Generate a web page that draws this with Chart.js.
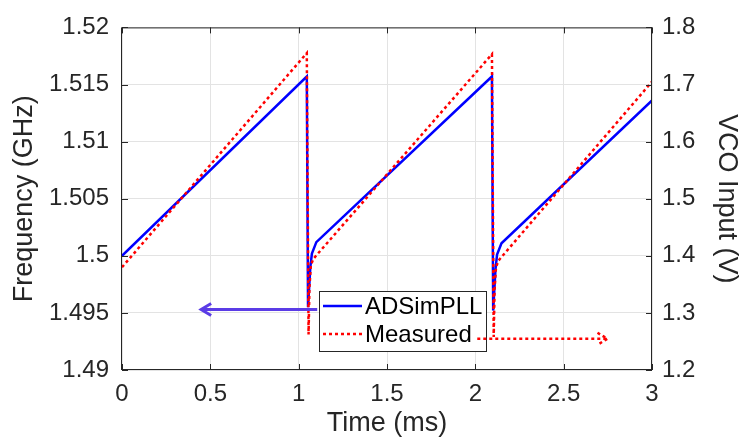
<!DOCTYPE html>
<html>
<head>
<meta charset="utf-8">
<script src="https://cdn.jsdelivr.net/npm/chart.js@4"></script>
<style>
  html, body { margin: 0; padding: 0; background: #fff; }
</style>
</head>
<body>
<canvas id="chart" width="743" height="441"></canvas>
<script>
// values
const timeADSim = [0, 1.046, 1.053, 1.066, 1.075, 1.1, 2.094, 2.101, 2.114, 2.123, 2.148, 3];
const freqADSim = [1.5, 1.5157, 1.4955, 1.499, 1.5002, 1.5012, 1.5157, 1.4952, 1.4988, 1.5001, 1.5011, 1.5136];

const timeMeasured = [0, 1.046, 1.056, 1.061, 1.069, 1.084, 2.094, 2.104, 2.109, 2.117, 2.132, 3];
const vcoMeasured = [1.38, 1.755, 1.262, 1.344, 1.384, 1.395, 1.753, 1.258, 1.34, 1.38, 1.392, 1.705];

const timeTicks = [0, 0.5, 1, 1.5, 2, 2.5, 3];
const timeTickLabels = ['0', '0.5', '1', '1.5', '2', '2.5', '3'];
const freqTicks = [1.49, 1.495, 1.5, 1.505, 1.51, 1.515, 1.52];
const freqTickLabels = ['1.49', '1.495', '1.5', '1.505', '1.51', '1.515', '1.52'];
const vcoTicks = [1.2, 1.3, 1.4, 1.5, 1.6, 1.7, 1.8];
const vcoTickLabels = ['1.2', '1.3', '1.4', '1.5', '1.6', '1.7', '1.8'];

// annotation arrows (data units): which axis each curve belongs to
const arrowADSimTime = [1.105, 0.448];
const arrowADSimFreq = 1.4953;
const arrowMeasuredTime = [2.011, 2.748];
const arrowMeasuredVco = 1.2547;

const FONT = "'Liberation Sans', Arial, Helvetica, sans-serif";
const AXIS_COLOR = '#262626';
Chart.defaults.font.family = FONT;
Chart.defaults.color = AXIS_COLOR;

const toPoints = (xs, ys) => xs.map((x, i) => ({ x: x, y: ys[i] }));

const setTicks = (values) => (scale) => {
  scale.ticks = values.map(v => ({ value: v }));
};

const matlabAxes = {
  id: 'matlabAxes',
  afterDatasetsDraw(chart) {
    const { ctx, chartArea: a, scales } = chart;
    const len = 6;
    ctx.save();
    ctx.strokeStyle = AXIS_COLOR;
    ctx.lineWidth = 1;
    ctx.strokeRect(a.left - 0.5, a.top + 0.5, a.right - a.left, a.bottom - a.top - 1);
    ctx.beginPath();
    timeTicks.forEach(v => {
      const px = Math.round(scales.x.getPixelForValue(v)) + 0.5;
      ctx.moveTo(px, a.bottom); ctx.lineTo(px, a.bottom - len);
      ctx.moveTo(px, a.top); ctx.lineTo(px, a.top + len);
    });
    freqTicks.forEach(v => {
      const py = Math.round(scales.y.getPixelForValue(v)) + 0.5;
      ctx.moveTo(a.left, py); ctx.lineTo(a.left + len, py);
    });
    vcoTicks.forEach(v => {
      const py = Math.round(scales.y1.getPixelForValue(v)) + 0.5;
      ctx.moveTo(a.right, py); ctx.lineTo(a.right - len, py);
    });
    ctx.stroke();
    ctx.restore();
  },
  afterDraw(chart) {
    const { ctx, scales } = chart;
    const ds = chart.data.datasets;
    ctx.save();

    // legend box
    const bx = 319, by = 291, bw = 167, bh = 60;
    ctx.fillStyle = '#fff';
    ctx.fillRect(bx, by, bw, bh);
    ctx.strokeStyle = AXIS_COLOR;
    ctx.lineWidth = 1;
    ctx.strokeRect(bx + 0.5, by + 0.5, bw, bh);
    const rows = [306, 334];
    ds.forEach((d, i) => {
      const y = rows[i];
      ctx.beginPath();
      ctx.strokeStyle = d.borderColor;
      ctx.lineWidth = d.borderWidth;
      ctx.setLineDash(d.borderDash || []);
      ctx.moveTo(bx + 4, y);
      ctx.lineTo(bx + 43, y);
      ctx.stroke();
      ctx.setLineDash([]);
      ctx.fillStyle = '#000';
      ctx.font = '24px ' + FONT;
      ctx.textBaseline = 'middle';
      ctx.textAlign = 'left';
      ctx.fillText(d.label, bx + 46, y + 1);
    });

    // arrow to the left axis (ADSimPLL)
    const ay = scales.y.getPixelForValue(arrowADSimFreq);
    const ax0 = scales.x.getPixelForValue(arrowADSimTime[0]);
    const ax1 = scales.x.getPixelForValue(arrowADSimTime[1]);
    ctx.strokeStyle = '#5b3ce6';
    ctx.lineWidth = 3;
    ctx.beginPath();
    ctx.moveTo(ax0, ay); ctx.lineTo(ax1, ay);
    ctx.moveTo(ax1 + 10, ay - 6); ctx.lineTo(ax1, ay); ctx.lineTo(ax1 + 10, ay + 6);
    ctx.stroke();

    // arrow to the right axis (Measured)
    const ry = scales.y1.getPixelForValue(arrowMeasuredVco);
    const rx0 = scales.x.getPixelForValue(arrowMeasuredTime[0]);
    const rx1 = scales.x.getPixelForValue(arrowMeasuredTime[1]);
    ctx.strokeStyle = '#ff0000';
    ctx.lineWidth = 2.5;
    ctx.setLineDash([3, 3]);
    ctx.beginPath();
    ctx.moveTo(rx0, ry); ctx.lineTo(rx1, ry);
    ctx.moveTo(rx1 - 10, ry - 6); ctx.lineTo(rx1, ry); ctx.lineTo(rx1 - 10, ry + 6);
    ctx.stroke();
    ctx.restore();
  }
};

new Chart(document.getElementById('chart'), {
  type: 'scatter',
  data: {
    datasets: [
      {
        label: 'ADSimPLL',
        data: toPoints(timeADSim, freqADSim),
        yAxisID: 'y',
        showLine: true,
        borderColor: '#0000ff',
        borderWidth: 2.5,
        pointRadius: 0,
        tension: 0,
        order: 1,
      },
      {
        label: 'Measured',
        data: toPoints(timeMeasured, vcoMeasured),
        yAxisID: 'y1',
        showLine: true,
        borderColor: '#ff0000',
        borderWidth: 2.5,
        borderDash: [3, 3],
        pointRadius: 0,
        tension: 0,
        order: 0,
      },
    ],
  },
  options: {
    responsive: false,
    animation: false,
    layout: { padding: { top: 22, left: 0, right: 0, bottom: 0 } },
    plugins: {
      legend: { display: false },
      tooltip: { enabled: false },
    },
    scales: {
      x: {
        type: 'linear',
        position: 'bottom',
        min: 0,
        max: 3,
        afterBuildTicks: setTicks(timeTicks),
        afterFit: (s) => { s.height = 71; },
        grid: { color: '#e3e3e3', drawTicks: false },
        border: { display: false },
        ticks: {
          padding: 10,
          font: { size: 24 },
          callback: (v, i) => timeTickLabels[i],
        },
        title: { display: true, text: 'Time (ms)', font: { size: 27 }, padding: { top: 0, bottom: 1 } },
      },
      y: {
        type: 'linear',
        position: 'left',
        min: 1.49,
        max: 1.52,
        afterBuildTicks: setTicks(freqTicks),
        afterFit: (s) => { s.width = 122; },
        grid: { color: '#e3e3e3', drawTicks: false },
        border: { display: false },
        ticks: {
          padding: 13,
          font: { size: 24 },
          callback: (v, i) => freqTickLabels[i],
        },
        title: { display: true, text: 'Frequency (GHz)', font: { size: 27 }, padding: { top: 8, bottom: 0 } },
      },
      y1: {
        type: 'linear',
        position: 'right',
        min: 1.2,
        max: 1.8,
        afterBuildTicks: setTicks(vcoTicks),
        afterFit: (s) => { s.width = 91; },
        grid: { drawOnChartArea: false, drawTicks: false },
        border: { display: false },
        ticks: {
          padding: 10,
          font: { size: 24 },
          callback: (v, i) => vcoTickLabels[i],
        },
        title: { display: true, text: 'VCO Input (V)', font: { size: 27 }, padding: { top: 0, bottom: 0 } },
      },
    },
  },
  plugins: [matlabAxes],
});
</script>
</body>
</html>
